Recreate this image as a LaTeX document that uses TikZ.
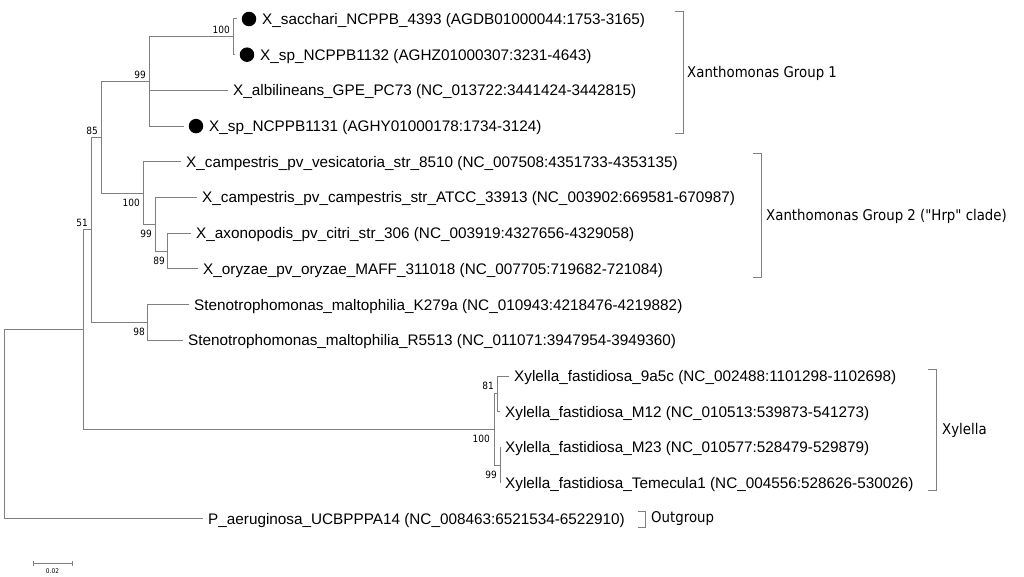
\documentclass[tikz,border=0pt]{standalone}
\usepackage{fontspec}
\setmainfont{Liberation Sans}
\newfontfamily\grpfont[FakeStretch=0.9]{DejaVu Sans}
\begin{document}
\begin{tikzpicture}[x=1pt,y=-1pt,
  br/.style={draw=black!50, line width=1pt},
  brk/.style={draw=black!50, line width=1pt},
  leaf/.style={anchor=west, inner xsep=5pt, inner ysep=0pt, text height=10.9pt, text depth=0pt, font=\fontsize{15.3}{17}\selectfont},
  dot/.style={circle, fill=black, minimum size=14.5pt, inner sep=0pt, outer sep=5pt},
  bs/.style={anchor=east, inner sep=0pt, font=\grpfont\fontsize{10}{12}\selectfont},
  grp/.style={anchor=west, inner sep=0pt, font=\grpfont\fontsize{14.8}{17}\selectfont},
  sc/.style={anchor=center, inner sep=0pt, font=\grpfont\fontsize{6.5}{8}\selectfont}]
\path[use as bounding box] (0,0) rectangle (1024,577);

% leaves
\node[dot] (d1) at (249,19) {};
\node[leaf] (l1) at (257,19) {X\_sacchari\_NCPPB\_4393 (AGDB01000044:1753-3165)};
\node[dot] (d2) at (247,54.7) {};
\node[leaf] (l2) at (255,54.7) {X\_sp\_NCPPB1132 (AGHZ01000307:3231-4643)};
\node[leaf] (l3) at (228,90.4) {X\_albilineans\_GPE\_PC73 (NC\_013722:3441424-3442815)};
\node[dot] (d4) at (196,126.1) {};
\node[leaf] (l4) at (204,126.1) {X\_sp\_NCPPB1131 (AGHY01000178:1734-3124)};
\node[leaf] (l5) at (181,161.8) {X\_campestris\_pv\_vesicatoria\_str\_8510 (NC\_007508:4351733-4353135)};
\node[leaf] (l6) at (197,197.5) {X\_campestris\_pv\_campestris\_str\_ATCC\_33913 (NC\_003902:669581-670987)};
\node[leaf] (l7) at (191,233.2) {X\_axonopodis\_pv\_citri\_str\_306 (NC\_003919:4327656-4329058)};
\node[leaf] (l8) at (198,268.9) {X\_oryzae\_pv\_oryzae\_MAFF\_311018 (NC\_007705:719682-721084)};
\node[leaf] (l9) at (189,304.6) {Stenotrophomonas\_maltophilia\_K279a (NC\_010943:4218476-4219882)};
\node[leaf] (l10) at (183,340.3) {Stenotrophomonas\_maltophilia\_R5513 (NC\_011071:3947954-3949360)};
\node[leaf] (l11) at (509,376) {Xylella\_fastidiosa\_9a5c (NC\_002488:1101298-1102698)};
\node[leaf] (l12) at (500,411.7) {Xylella\_fastidiosa\_M12 (NC\_010513:539873-541273)};
\node[leaf] (l13) at (500,447.4) {Xylella\_fastidiosa\_M23 (NC\_010577:528479-529879)};
\node[leaf] (l14) at (500,483.1) {Xylella\_fastidiosa\_Temecula1 (NC\_004556:528626-530026)};
\node[leaf] (l15) at (203,518.8) {P\_aeruginosa\_UCBPPPA14 (NC\_008463:6521534-6522910)};

% internal nodes
\coordinate (A) at (233,36.85);
\coordinate (B) at (149,81.5);
\coordinate (F) at (167,251.05);
\coordinate (E) at (155,224.3);
\coordinate (D) at (143,193.05);
\coordinate (C) at (101,137.3);
\coordinate (H) at (147,322.45);
\coordinate (G) at (91,229.9);
\coordinate (J) at (497,393.85);
\coordinate (K) at (500,465.25);
\coordinate (X) at (494,429.55);
\coordinate (I) at (83,329.7);
\coordinate (R) at (4,424.25);

% branches
\draw[br] (A) |- (d1);
\draw[br] (A) |- (d2);
\draw[br] (B) |- (A);
\draw[br] (B) |- (l3);
\draw[br] (B) |- (d4);
\draw[br] (F) |- (l7);
\draw[br] (F) |- (l8);
\draw[br] (E) |- (l6);
\draw[br] (E) |- (F);
\draw[br] (D) |- (l5);
\draw[br] (D) |- (E);
\draw[br] (C) |- (B);
\draw[br] (C) |- (D);
\draw[br] (H) |- (l9);
\draw[br] (H) |- (l10);
\draw[br] (G) |- (C);
\draw[br] (G) |- (H);
\draw[br] (J) |- (l11);
\draw[br] (J) |- (l12);
\draw[br] (K) |- (l13);
\draw[br] (K) |- (l14);
\draw[br] (X) |- (J);
\draw[br] (X) |- (K);
\draw[br] (I) |- (G);
\draw[br] (I) |- (X);
\draw[br] (R) |- (I);
\draw[br] (R) |- (l15);

% bootstrap values
\node[bs] (bA) at (230,30) {100};
\node[bs] (bB) at (146,75) {99};
\node[bs] (bC) at (98,131) {85};
\node[bs] (bD) at (140,203) {100};
\node[bs] (bE) at (152,234) {99};
\node[bs] (bF) at (165,261) {89};
\node[bs] (bG) at (88,223) {51};
\node[bs] (bH) at (145,332) {98};
\node[bs] (bX) at (490,439) {100};
\node[bs] (bJ) at (494,386) {81};
\node[bs] (bK) at (497,475) {99};

% group brackets
\draw[brk] (675,12) -- (683,12) -- (683,134) -- (675,134);
\node[grp] (g1) at (687,73) {Xanthomonas Group 1};
\draw[brk] (753,154) -- (761,154) -- (761,277) -- (753,277);
\node[grp] (g2) at (766,216) {Xanthomonas Group 2 ("Hrp" clade)};
\draw[brk] (928,369) -- (936,369) -- (936,490) -- (928,490);
\node[grp] (g3) at (942,430) {Xylella};
\draw[brk] (638,511) -- (645,511) -- (645,527) -- (638,527);
\node[grp] (g4) at (651,519) {Outgroup};

% scale bar
\draw[brk] (33,563) -- (72,563);
\draw[brk] (33,560.5) -- (33,565.5);
\draw[brk] (72,560.5) -- (72,565.5);
\node[sc] (s) at (52.5,571.5) {0.02};
\end{tikzpicture}
\end{document}
